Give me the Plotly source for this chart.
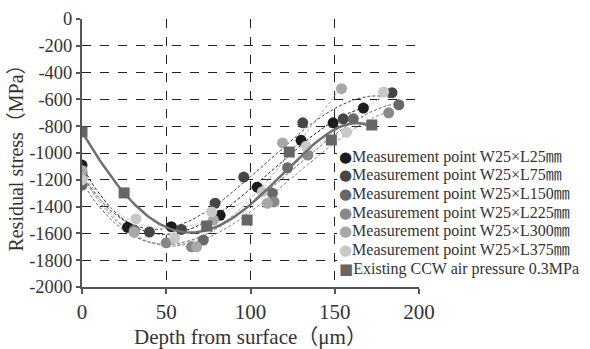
import numpy as np
import plotly.graph_objects as go

# ---- data ----
series_names = [
    "Measurement point W25×L25㎜",
    "Measurement point W25×L75㎜",
    "Measurement point W25×L150㎜",
    "Measurement point W25×L225㎜",
    "Measurement point W25×L300㎜",
    "Measurement point W25×L375㎜",
]
depth_L25 = [0, 27, 53, 82, 104, 130, 149, 167]
stress_L25 = [-1090, -1555, -1550, -1465, -1255, -905, -775, -665]
depth_L75 = [0, 40, 59, 79, 96, 131, 155, 184]
stress_L75 = [-1150, -1590, -1570, -1375, -1180, -775, -745, -550]
depth_L150 = [0, 31, 72, 113, 122, 161, 188]
stress_L150 = [-1240, -1575, -1650, -1300, -1110, -745, -640]
depth_L225 = [0, 31, 50, 65, 114, 134, 182]
stress_L225 = [-1180, -1590, -1670, -1700, -1365, -1015, -700]
depth_L300 = [0, 31, 68, 78, 110, 119, 154]
stress_L300 = [-1130, -1590, -1700, -1500, -1375, -925, -520]
depth_L375 = [0, 32, 55, 77, 107, 133, 157, 179]
stress_L375 = [-1200, -1490, -1635, -1440, -1290, -950, -845, -545]

existing_name = "Existing CCW air pressure 0.3MPa"
depth_existing = [0, 25, 74, 98, 123, 148, 172]
stress_existing = [-843, -1298, -1545, -1500, -993, -903, -791]

y_tickvals = [0, -200, -400, -600, -800, -1000, -1200, -1400, -1600, -1800, -2000]
y_ticktext = ["0", "-200", "-400", "-600", "-800", "-1000", "-1200", "-1400", "-1600", "-1800", "-2000"]
x_tickvals = [0, 50, 100, 150, 200]
x_ticktext = ["0", "50", "100", "150", "200"]

# ---- styling ----
colors = ["#1c1c1c", "#464646", "#686868", "#888888", "#a8a8a8", "#c8c8c8"]
existing_color = "#666666"
SERIF = "Liberation Serif, Times New Roman, Noto Sans CJK JP, serif"
W, H = 590, 349
ML, MR, MT, MB = 82, 171, 19, 62
PW, PH = W - ML - MR, H - MT - MB

depths = [depth_L25, depth_L75, depth_L150, depth_L225, depth_L300, depth_L375]
stresses = [stress_L25, stress_L75, stress_L150, stress_L225, stress_L300, stress_L375]

fig = go.Figure()

# polynomial trendlines (dashed) for each measurement series
for d, s, c in zip(depths, stresses, colors):
    coef = np.polyfit(d, s, 3)
    xs = np.linspace(min(d), max(d), 80)
    fig.add_trace(go.Scatter(x=xs, y=np.polyval(coef, xs), mode="lines",
                             line=dict(color=c, width=1, dash="3px,2px"),
                             showlegend=False, hoverinfo="skip"))

# measurement points
for name, d, s, c in zip(series_names, depths, stresses, colors):
    fig.add_trace(go.Scatter(x=d, y=s, mode="markers", name=name, showlegend=False,
                             marker=dict(symbol="circle", size=11, color=c)))

# existing: trendline (solid) + squares
coef_e = np.polyfit(depth_existing, stress_existing, 4)
xe = np.linspace(min(depth_existing), max(depth_existing), 100)
fig.add_trace(go.Scatter(x=xe, y=np.polyval(coef_e, xe), mode="lines",
                         line=dict(color="#707070", width=2.5),
                         showlegend=False, hoverinfo="skip"))
fig.add_trace(go.Scatter(x=depth_existing, y=stress_existing, mode="markers",
                         name=existing_name, showlegend=False,
                         marker=dict(symbol="square", size=11, color=existing_color)))

# legend box (white, hides grid) + legend entries as text
def px_to_paper_x(px):
    return (px - ML) / PW

def px_to_paper_y(py):
    return (H - MB - py) / PH

fig.add_shape(type="rect", xref="paper", yref="paper",
              x0=px_to_paper_x(337), x1=1.0, y0=px_to_paper_y(280), y1=px_to_paper_y(141),
              fillcolor="white", line=dict(width=0), layer="above")

legend_labels = series_names + [existing_name]
legend_symbols = ["●"] * len(series_names) + ["■"]
legend_colors = colors + [existing_color]
row0, row_gap = 156.5, 18.7
for i, (lab, sym, col) in enumerate(zip(legend_labels, legend_symbols, legend_colors)):
    fig.add_annotation(
        xref="paper", yref="paper", x=px_to_paper_x(338), y=px_to_paper_y(row0 + i * row_gap),
        xanchor="left", yanchor="middle", showarrow=False, borderpad=0,
        text=f'<span style="color:{col};font-family:DejaVu Sans;font-size:15px">{sym}</span>{lab}',
        font=dict(size=16, family=SERIF, color="#333333"),
    )

fig.update_layout(
    width=W, height=H,
    margin=dict(l=ML, r=MR, t=MT, b=MB),
    paper_bgcolor="white", plot_bgcolor="white",
    font=dict(family=SERIF, color="#333333"),
    showlegend=False,
)
fig.update_xaxes(range=[0, 200], tickvals=x_tickvals, ticktext=x_ticktext, automargin=False,
                 showline=True, linecolor="#555555", linewidth=2,
                 ticks="outside", ticklen=5, tickcolor="#555555", tickwidth=1.5,
                 showgrid=True, gridcolor="#222222", gridwidth=1, griddash="dash",
                 zeroline=False, tickfont=dict(size=21, family=SERIF, color="#333333"),
                 title=dict(text="Depth from surface（μm）", font=dict(size=21, family=SERIF, color="#333333"),
                            standoff=8))
fig.update_yaxes(range=[-2000, 0], tickvals=y_tickvals, ticktext=y_ticktext, automargin=False,
                 showline=True, linecolor="#555555", linewidth=2,
                 ticks="outside", ticklen=4, tickcolor="#555555", tickwidth=1.5,
                 showgrid=True, gridcolor="#222222", gridwidth=1, griddash="dash",
                 zeroline=False, tickfont=dict(size=18.5, family=SERIF, color="#333333"),
                 title=dict(text="Residual stress（MPa）", font=dict(size=20, family=SERIF, color="#333333"),
                            standoff=0))

fig.write_html("out.html", config={"displayModeBar": False},
               post_script="document.body.style.margin='0';document.body.style.overflow='hidden';")
